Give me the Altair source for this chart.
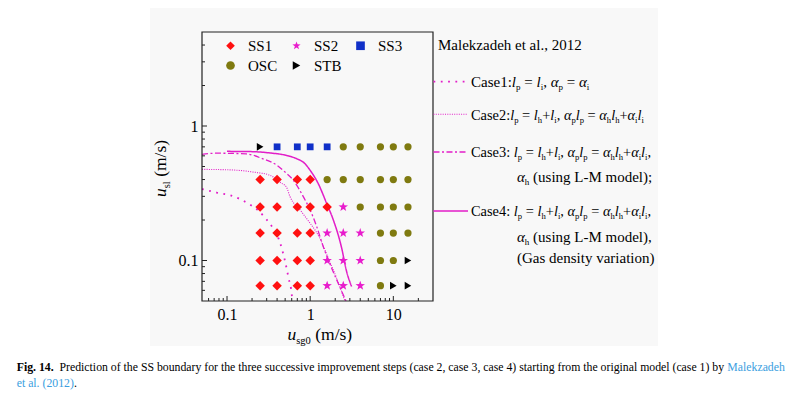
import altair as alt
import pandas as pd
import numpy as np

# ---------------- data ----------------
usg_levels = [0.25, 0.4, 0.7, 1.0, 1.6, 2.5, 4.0, 7.0, 10.0, 15.0]
usl_levels = [0.7, 0.4, 0.25, 0.16, 0.1, 0.065]
row_070 = ["STB", "SS3", "SS3", "SS3", "SS3", "OSC", "OSC", "OSC", "OSC", "OSC"]
row_040 = ["SS1", "SS1", "SS1", "SS1", "OSC", "OSC", "OSC", "OSC", "OSC", "OSC"]
row_025 = ["SS1", "SS1", "SS1", "SS1", "SS1", "SS2", "OSC", "OSC", "OSC", "OSC"]
row_016 = ["SS1", "SS1", "SS1", "SS1", "SS2", "SS2", "SS2", "OSC", "OSC", "OSC"]
row_010 = ["SS1", "SS1", "SS1", "SS1", "SS2", "SS2", "SS2", "OSC", "OSC", "STB"]
row_0065 = ["SS1", "SS1", "SS1", "SS1", "SS2", "SS2", "SS2", "OSC", "STB", "STB"]
regime_rows = [row_070, row_040, row_025, row_016, row_010, row_0065]
regimes = ["SS1", "SS2", "SS3", "OSC", "STB"]
legend_order = ["SS1", "OSC", "SS2", "STB", "SS3"]   # column-major fill -> rows SS1 SS2 SS3 / OSC STB

case1_usg = [0.05, 0.075, 0.11, 0.145, 0.19, 0.24, 0.29, 0.345, 0.43, 0.5, 0.55, 0.6, 0.61]
case1_usl = [0.34, 0.32, 0.305, 0.285, 0.26, 0.234, 0.206, 0.18, 0.138, 0.098, 0.074, 0.056, 0.05]
case2_usg = [0.05, 0.11, 0.21, 0.33, 0.44, 0.52, 0.57, 0.76, 1.0, 1.14, 1.31, 1.65, 2.08, 2.62]
case2_usl = [0.476, 0.472, 0.454, 0.43, 0.38, 0.35, 0.30, 0.237, 0.189, 0.169, 0.146, 0.104, 0.074, 0.05]
case3_usg = [0.05, 0.075, 0.17, 0.27, 0.4, 0.5, 0.63, 0.83, 1.0, 1.2, 1.41, 1.71, 2.08, 2.7]
case3_usl = [0.615, 0.628, 0.62, 0.57, 0.51, 0.454, 0.394, 0.297, 0.237, 0.178, 0.131, 0.096, 0.072, 0.05]
case4_usg = [0.1, 0.2, 0.315, 0.52, 0.69, 0.85, 1.0, 1.25, 1.58, 1.9, 2.39, 2.74, 3.15]
case4_usl = [0.648, 0.645, 0.632, 0.604, 0.571, 0.53, 0.468, 0.373, 0.265, 0.2, 0.124, 0.083, 0.064]

x_major = [0.1, 1, 10]
x_minor = [0.06, 0.07, 0.08, 0.09, 0.2, 0.3, 0.4, 0.5, 0.6, 0.7, 0.8, 0.9,
           2, 3, 4, 5, 6, 7, 8, 9, 20]
y_major = [0.1, 1]
y_minor = [0.06, 0.07, 0.08, 0.09, 0.2, 0.3, 0.4, 0.5, 0.6, 0.7, 0.8, 0.9, 2, 3, 4]

# ---------------- styling ----------------
W, H = 231, 269
FONT = "Liberation Serif"
MAG = "#e21ec8"
BLUE_LINK = "#3a9ee0"
reg_color = {"SS1": "#ff1010", "SS2": "#e81ccc", "SS3": "#1030c8", "OSC": "#7f7a10", "STB": "#000000"}
ang = np.deg2rad(-90 + 36 * np.arange(10))
rad = np.where(np.arange(10) % 2 == 0, 1.0, 0.4)
STAR = "M" + "L".join(f"{r*np.cos(a):.3f},{r*np.sin(a):.3f}" for r, a in zip(rad, ang)) + "Z"
reg_shape = {"SS1": "diamond", "SS2": STAR, "SS3": "square", "OSC": "circle", "STB": "triangle-right"}
reg_size = {"SS1": 90, "SS2": 100, "SS3": 46, "OSC": 52, "STB": 58}

xs = alt.Scale(type="log", domain=[0.05, 30], nice=False)
ys = alt.Scale(type="log", domain=[0.05, 5], nice=False)
xaxis = alt.Axis(values=x_major, format="~g", labelFont=FONT, labelFontSize=16, labelColor="black",
                 ticks=False, tickSize=0, domain=False, grid=False, title=None, labelPadding=5,
                 labelFlush=False, zindex=2)
yaxis = alt.Axis(values=y_major, format="~g", labelFont=FONT, labelFontSize=16, labelColor="black",
                 ticks=False, tickSize=0, domain=False, grid=False, title=None, labelPadding=4,
                 labelFlush=False, zindex=2)
legend = alt.Legend(orient="none", legendX=21, legendY=6, columns=3, title=None,
                    labelFont=FONT, labelFontSize=15, labelColor="black", symbolSize=75,
                    labelOffset=10, columnPadding=11, rowPadding=4, symbolStrokeWidth=0)

pts = pd.DataFrame([
    {"usg": usg_levels[j], "usl": usl_levels[i], "regime": regime_rows[i][j]}
    for i in range(len(usl_levels)) for j in range(len(usg_levels))
])

layers = []
for name, ux, uy, dash, sw in [
    ("Case1", case1_usg, case1_usl, [1.8, 5.5], 1.8),
    ("Case2", case2_usg, case2_usl, [1, 1.3], 1.1),
    ("Case3", case3_usg, case3_usl, [6, 2.5, 2, 2.5], 1.3),
    ("Case4", case4_usg, case4_usl, [1, 0], 1.5),
]:
    d = pd.DataFrame({"usg": ux, "usl": uy})
    layers.append(
        alt.Chart(d).mark_line(color=MAG, strokeDash=dash, strokeWidth=sw, clip=True,
                               interpolate="monotone")
        .encode(x=alt.X("usg:Q", scale=xs, axis=xaxis), y=alt.Y("usl:Q", scale=ys, axis=yaxis))
    )

for r in regimes:
    layers.append(
        alt.Chart(pts[pts.regime == r]).mark_point(filled=True, opacity=1, size=reg_size[r], strokeWidth=0)
        .encode(
            x=alt.X("usg:Q", scale=xs, axis=xaxis),
            y=alt.Y("usl:Q", scale=ys, axis=yaxis),
            color=alt.Color("regime:N", scale=alt.Scale(domain=legend_order, range=[reg_color[k] for k in legend_order]), legend=legend),
            shape=alt.Shape("regime:N", scale=alt.Scale(domain=legend_order, range=[reg_shape[k] for k in legend_order]), legend=legend),
        )
    )

# inward axis ticks
for vals, ln in [(x_major, 5), (x_minor, 3)]:
    layers.append(alt.Chart(pd.DataFrame({"v": vals})).mark_rule(color="#222", strokeWidth=1)
                  .encode(x=alt.X("v:Q", scale=xs, axis=xaxis), y=alt.value(H), y2=alt.value(H - ln)))
for vals, ln in [(y_major, 5), (y_minor, 3)]:
    layers.append(alt.Chart(pd.DataFrame({"v": vals})).mark_rule(color="#222", strokeWidth=1)
                  .encode(y=alt.Y("v:Q", scale=ys, axis=yaxis), x=alt.value(0), x2=alt.value(ln)))

inner = alt.layer(*layers)

# ---------------- text layout helpers ----------------
TW_R = {' ': 250, '!': 333, '(': 333, ')': 333, '+': 564, ',': 250, '-': 333, '.': 250, '/': 278, ':': 278,
        ';': 278, '=': 564, 'α': 520,
        'A': 722, 'B': 667, 'C': 667, 'D': 722, 'E': 611, 'F': 556, 'G': 722, 'H': 722, 'I': 333, 'L': 611,
        'M': 889, 'N': 722, 'O': 722, 'P': 556, 'S': 556, 'T': 611,
        'a': 444, 'b': 500, 'c': 444, 'd': 500, 'e': 444, 'f': 333, 'g': 500, 'h': 500, 'i': 278, 'j': 278,
        'k': 500, 'l': 278, 'm': 778, 'n': 500, 'o': 500, 'p': 500, 'q': 500, 'r': 333, 's': 389, 't': 278,
        'u': 500, 'v': 500, 'w': 722, 'x': 500, 'y': 500, 'z': 444}
TW_B = {'F': 611, 'i': 278, 'g': 500, '.': 250, ' ': 250}
SUBF = 0.6


def twidth(s, fs, kind):
    tot = 0
    for c in s:
        if kind == 'b' and c in TW_B:
            tot += TW_B[c]
        else:
            tot += TW_R.get(c, 500)
    return tot / 1000 * fs


text_rows = []


def add_run(segs, x, y, size, angle=0):
    for seg in segs:
        text, kind = seg[0], seg[1]
        color = seg[2] if len(seg) > 2 else "black"
        fs = size * SUBF if kind == 's' else size
        lead = len(text) - len(text.lstrip(' '))
        adv = lead * 0.25 * fs
        shift = 0.22 * size if kind == 's' else 0
        if angle == 0:
            px, py = x + adv, y + shift
        else:
            px, py = x + shift, y - adv
        if text.strip():
            text_rows.append(dict(x=px, y=py, text=text.strip(), fs=round(fs, 2),
                                  style='italic' if kind == 'i' else 'normal',
                                  weight='bold' if kind == 'b' else 'normal', color=color, angle=angle))
        w = twidth(text, fs, kind)
        if angle == 0:
            x += w
        else:
            y -= w


FS = 15
FS2 = 14.4
add_run([("Malekzadeh et al., 2012", 'n')], 236, 18, FS)
eq_tail = [("l", 'i'), ("p", 's'), (" = ", 'n'), ("l", 'i'), ("h", 's'), ("+", 'n'), ("l", 'i'), ("i", 's'),
           (", ", 'n'), ("α", 'i'), ("p", 's'), ("l", 'i'), ("p", 's'), (" = ", 'n'), ("α", 'i'), ("h", 's'),
           ("l", 'i'), ("h", 's'), ("+", 'n'), ("α", 'i'), ("i", 's'), ("l", 'i'), ("i", 's')]
add_run([("Case1:", 'n'), ("l", 'i'), ("p", 's'), (" = ", 'n'), ("l", 'i'), ("i", 's'), (", ", 'n'),
         ("α", 'i'), ("p", 's'), (" = ", 'n'), ("α", 'i'), ("i", 's')], 269, 55, FS)
add_run([("Case2:", 'n')] + eq_tail, 269, 87.5, FS2)
add_run([("Case3: ", 'n')] + eq_tail + [(",", 'n')], 269, 125, FS2)
add_run([("α", 'i'), ("h", 's'), (" (using L-M model);", 'n')], 315, 150, FS)
add_run([("Case4: ", 'n')] + eq_tail + [(",", 'n')], 269, 184, FS2)
add_run([("α", 'i'), ("h", 's'), (" (using L-M model),", 'n')], 315, 209.5, FS)
add_run([("(Gas density variation)", 'n')], 315, 230.5, FS)

# axis titles
add_run([("u", 'i'), ("sg0", 's'), (" (m/s)", 'n')], 85.5, 308, 17.5)
add_run([("u", 'i'), ("sl", 's'), (" (m/s)", 'n')], -36, 165, 17.5, angle=270)

# caption
cap1 = [("Fig. 14.", 'b'),
        ("  Prediction of the SS boundary for the three successive improvement steps (case 2, case 3, case 4) "
         "starting from the original model (case 1) by ", 'n'),
        ("Malekzadeh", 'n', BLUE_LINK)]
tot1 = sum(twidth(s[0], 1, s[1]) for s in cap1)
CAP_FS = round(768 / tot1, 2)
add_run(cap1, -185.3, 339, CAP_FS)
add_run([("et al. (2012)", 'n', BLUE_LINK), (".", 'n')], -185.3, 354.5, CAP_FS)

tdf = pd.DataFrame(text_rows)
text_layers = []
for (fs, style, weight, color, angle), g in tdf.groupby(["fs", "style", "weight", "color", "angle"]):
    text_layers.append(
        alt.Chart(g.reset_index(drop=True)).mark_text(
            align="left", baseline="alphabetic", font=FONT, fontSize=float(fs), fontStyle=style,
            fontWeight=weight, color=color, angle=int(angle))
        .encode(x=alt.X("x:Q", scale=None, axis=None), y=alt.Y("y:Q", scale=None, axis=None), text="text:N")
    )

one = pd.DataFrame({"k": [0]})
bg = alt.Chart(one).mark_rect(color="#f8f8f8").encode(
    x=alt.value(-52), x2=alt.value(456), y=alt.value(-24), y2=alt.value(314))
frame = alt.Chart(one).mark_rect(fillOpacity=0, stroke="#222", strokeWidth=1.2).encode(
    x=alt.value(0), x2=alt.value(W), y=alt.value(0), y2=alt.value(H))

samples = []
for yv, dash, sw in [(49.7, [1.8, 5.5], 1.8), (82.3, [1, 1.3], 1.1), (120, [6, 2.5, 2, 2.5], 1.4), (179, [1, 0], 1.5)]:
    samples.append(alt.Chart(one).mark_rule(color=MAG, strokeDash=dash, strokeWidth=sw)
                   .encode(x=alt.value(231.5), x2=alt.value(266), y=alt.value(yv)))

chart = alt.layer(bg, inner, frame, *samples, *text_layers).resolve_scale(
    x="independent", y="independent"
).properties(
    width=W, height=H,
    padding={"left": 194, "top": 24, "right": 357, "bottom": 89},
    autosize=alt.AutoSizeParams(type="none"),
    background="white",
).configure_view(strokeOpacity=0)

chart.save("out.html", embed_options={"renderer": "svg", "actions": False})
